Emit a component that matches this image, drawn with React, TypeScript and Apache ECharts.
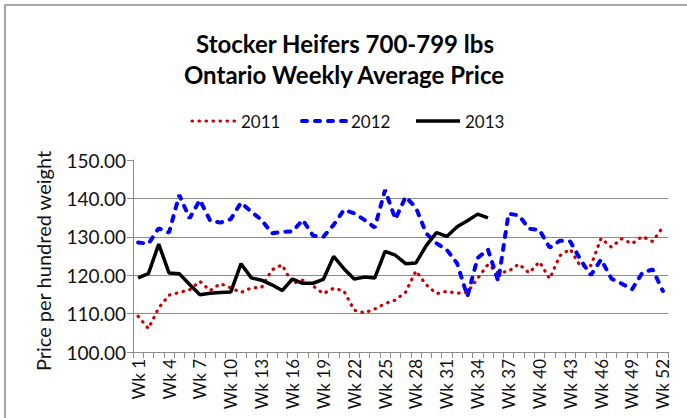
import React, { useEffect, useRef } from 'react';
import * as echarts from 'echarts';

const weeks: string[] = Array.from({ length: 52 }, (_, i) => `Wk ${i + 1}`);

const y2011 = [
  109.3, 106.1, 111.5, 114.8, 115.5, 116.2, 118.4, 116.0, 117.8, 116.7,
  115.5, 116.7, 116.8, 121.4, 122.7, 117.8, 118.7, 117.2, 115.2, 116.6,
  115.9, 110.9, 110.2, 111.2, 112.6, 113.5, 115.6, 121.1, 117.5, 115.2,
  115.8, 115.3, 115.5, 119.2, 122.8, 120.6, 121.0, 122.9, 120.6, 123.5,
  119.1, 125.1, 126.8, 122.3, 122.5, 129.6, 127.3, 129.5, 128.2, 130.1,
  128.8, 132.5,
];

const y2012 = [
  128.5, 128.2, 132.2, 131.1, 140.9, 134.8, 139.6, 134.2, 133.7, 134.6,
  138.9, 136.5, 134.4, 130.9, 131.3, 131.4, 134.4, 130.3, 130.0, 133.1,
  137.0, 136.1, 134.4, 132.4, 142.2, 134.6, 140.4, 137.6, 130.9, 128.3,
  126.6, 123.1, 114.5, 124.5, 126.7, 118.4, 136.0, 135.6, 132.1, 131.8,
  127.2, 129.0, 128.8, 124.0, 120.0, 124.1, 119.1, 117.8, 116.3, 120.6,
  121.5, 115.9,
];

const y2013: (number | null)[] = [
  119.3, 120.4, 128.1, 120.6, 120.4, 117.6, 114.9, 115.3, 115.5, 115.6,
  123.0, 119.3, 118.7, 117.5, 116.0, 119.0, 117.9, 117.9, 118.9, 124.9,
  121.7, 119.0, 119.5, 119.3, 126.2, 125.2, 123.0, 123.2, 127.7, 131.1,
  130.1, 132.6, 134.2, 135.9, 134.9,
  null, null, null, null, null, null, null, null, null, null,
  null, null, null, null, null, null, null,
];

const seriesNames = ['2011', '2012', '2013'];
const titleText = 'Stocker Heifers 700-799 lbs';
const subtitleText = 'Ontario Weekly Average Price';
const yAxisName = 'Price per hundred weight';

const FONT = 'Lato';

const styles = [
  { color: '#cc0000', width: 3.2, dash: [0.5, 6.5], cap: 'round' },
  { color: '#0000ff', width: 4, dash: [5, 8], cap: 'round' },
  { color: '#000000', width: 3.5, dash: null as number[] | null, cap: 'butt' },
];

const legendX = [192, 302, 416];

export default function App() {
  const ref = useRef<HTMLDivElement>(null);
  useEffect(() => {
    const chart = echarts.init(ref.current!, null, { renderer: 'svg' });
    const legendGraphics: any[] = [];
    seriesNames.forEach((name, i) => {
      const s = styles[i];
      legendGraphics.push({
        type: 'line',
        shape: { x1: legendX[i], y1: 121, x2: legendX[i] + 44, y2: 121 },
        style: {
          stroke: s.color,
          lineWidth: s.width,
          lineDash: s.dash || undefined,
          lineCap: s.cap,
        },
        silent: true,
      });
      legendGraphics.push({
        type: 'text',
        x: legendX[i] + 49,
        y: 121,
        style: {
          text: name,
          align: 'left',
          verticalAlign: 'middle',
          fontFamily: FONT,
          fontSize: 17,
          fill: '#111',
        },
      });
    });

    chart.setOption({
      animation: false,
      backgroundColor: '#ffffff',
      graphic: [
        {
          type: 'rect',
          shape: { x: 5, y: 5, width: 720, height: 450 },
          style: { fill: 'none', stroke: '#8c8c8c', lineWidth: 1.5 },
          silent: true,
        },
        {
          type: 'text',
          x: 345,
          y: 43,
          style: {
            text: titleText,
            align: 'center',
            verticalAlign: 'middle',
            fontFamily: FONT,
            fontWeight: 'bold',
            fontSize: 24,
            fill: '#000',
          },
        },
        {
          type: 'text',
          x: 344,
          y: 74,
          style: {
            text: subtitleText,
            align: 'center',
            verticalAlign: 'middle',
            fontFamily: FONT,
            fontWeight: 'bold',
            fontSize: 24,
            fill: '#000',
          },
        },
        {
          type: 'text',
          x: 43,
          y: 261,
          rotation: Math.PI / 2,
          style: {
            text: yAxisName,
            align: 'center',
            verticalAlign: 'middle',
            fontFamily: FONT,
            fontSize: 20,
            fill: '#111',
          },
        },
        ...legendGraphics,
      ],
      grid: { left: 133, right: 19, top: 160, bottom: 66, containLabel: false },
      xAxis: {
        type: 'category',
        data: weeks,
        boundaryGap: true,
        axisLine: { show: true, lineStyle: { color: '#8c8c8c', width: 1 } },
        axisTick: { show: true, interval: 0, length: 6, lineStyle: { color: '#8c8c8c' } },
        axisLabel: {
          interval: 2,
          rotate: 90,
          margin: 7,
          fontFamily: FONT,
          fontSize: 17,
          color: '#111',
        },
        splitLine: { show: false },
      },
      yAxis: {
        type: 'value',
        min: 100,
        max: 150,
        interval: 10,
        axisLine: { show: true, lineStyle: { color: '#8c8c8c', width: 1 } },
        axisTick: { show: true, length: 6, lineStyle: { color: '#8c8c8c' } },
        axisLabel: {
          formatter: (v: number) => v.toFixed(2),
          margin: 7,
          fontFamily: FONT,
          fontSize: 19,
          color: '#111',
        },
        splitLine: {
          show: true,
          lineStyle: {
            color: ['#8c8c8c', '#8c8c8c', '#8c8c8c', '#8c8c8c', '#8c8c8c', 'rgba(0,0,0,0)'],
            width: 1,
          },
        },
      },
      series: seriesNames.map((name, i) => ({
        name,
        type: 'line',
        data: [y2011, y2012, y2013][i],
        symbol: 'none',
        color: styles[i].color,
        connectNulls: false,
        lineStyle: {
          color: styles[i].color,
          width: styles[i].width,
          type: styles[i].dash || 'solid',
          cap: styles[i].cap,
        },
        z: 2 + i,
      })),
    });
    return () => chart.dispose();
  }, []);
  return (
    <div
      ref={ref}
      style={{ position: 'fixed', left: 0, top: 0, width: 687, height: 418, background: '#fff' }}
    />
  );
}
